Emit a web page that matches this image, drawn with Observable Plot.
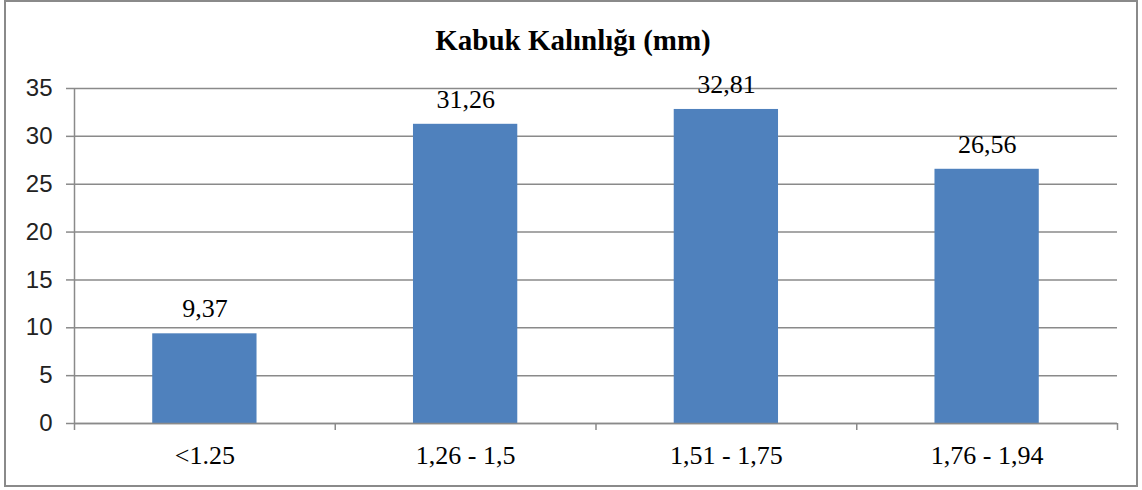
<!DOCTYPE html>
<html><head><meta charset="utf-8">
<script src="https://cdn.jsdelivr.net/npm/d3@7"></script>
<script src="https://cdn.jsdelivr.net/npm/@observablehq/plot@0.6"></script>
<style>
html,body{margin:0;padding:0;background:#fff;}
#wrap{position:relative;width:1142px;height:490px;overflow:hidden;}
#border{position:absolute;left:4px;top:0px;width:1134px;height:487px;box-sizing:border-box;border:2px solid #8a8a8a;pointer-events:none;}
#title{position:absolute;left:0;width:1142px;top:23px;text-align:center;font-family:"Liberation Serif","DejaVu Serif","Times New Roman",serif;font-weight:bold;font-size:29px;line-height:34px;color:#000;padding-left:4px;box-sizing:border-box;}
#chart{position:absolute;left:0;top:0;}
</style>
</head><body>
<div id="wrap"><div id="chart"></div><div id="title">Kabuk Kalınlığı (mm)</div><div id="border"></div></div>
<script>
const categories = ["<1.25", "1,26 - 1,5", "1,51 - 1,75", "1,76 - 1,94"];
const values = [9.37, 31.26, 32.81, 26.56];
const valueLabels = ["9,37", "31,26", "32,81", "26,56"];
const yTicks = [0, 5, 10, 15, 20, 25, 30, 35];

const data = categories.map((c, i) => ({i, category: c, value: values[i], label: valueLabels[i]}));
const boundaries = d3.range(categories.length + 1);
const centers = categories.map((c, i) => i + 0.5);

const grid = "#8a8a8a";
const serif = "'Liberation Serif', 'DejaVu Serif', 'Times New Roman', serif";

const plot = Plot.plot({
  width: 1142,
  height: 490,
  marginLeft: 74,
  marginRight: 25,
  marginTop: 88,
  marginBottom: 67,
  x: {type: "linear", domain: [0, categories.length], axis: null},
  y: {domain: [0, 35], axis: null},
  marks: [
    Plot.gridY(yTicks, {stroke: grid, strokeOpacity: 1, strokeWidth: 1.5}),
    Plot.axisY({ticks: yTicks, tickSize: 8, tickPadding: 14, stroke: grid, strokeWidth: 1.5,
      fontSize: 24, fontFamily: "Liberation Sans, Arial, sans-serif", color: "#222", label: null}),
    Plot.ruleX([0], {y1: 0, y2: 35, stroke: grid, strokeWidth: 1.5}),
    Plot.rectY(data, {x1: d => d.i + 0.3, x2: d => d.i + 0.7, y: "value", fill: "#4F81BD", inset: 0}),
    Plot.ruleY([0], {stroke: grid, strokeWidth: 1.5}),
    Plot.axisX({ticks: boundaries, tickSize: 7, tickFormat: () => "", stroke: grid, strokeWidth: 1.5, label: null}),
    Plot.axisX({ticks: centers, tickSize: 0, tickPadding: 22, tickFormat: d => categories[Math.floor(d)],
      fontSize: 26, fontFamily: serif, color: "#000", label: null}),
    Plot.text(data, {x: d => d.i + 0.5, y: "value", text: "label", dy: -25, lineAnchor: "middle",
      fontSize: 26, fontFamily: serif, fill: "#000"})
  ]
});
document.getElementById("chart").appendChild(plot);
</script>
</body></html>
